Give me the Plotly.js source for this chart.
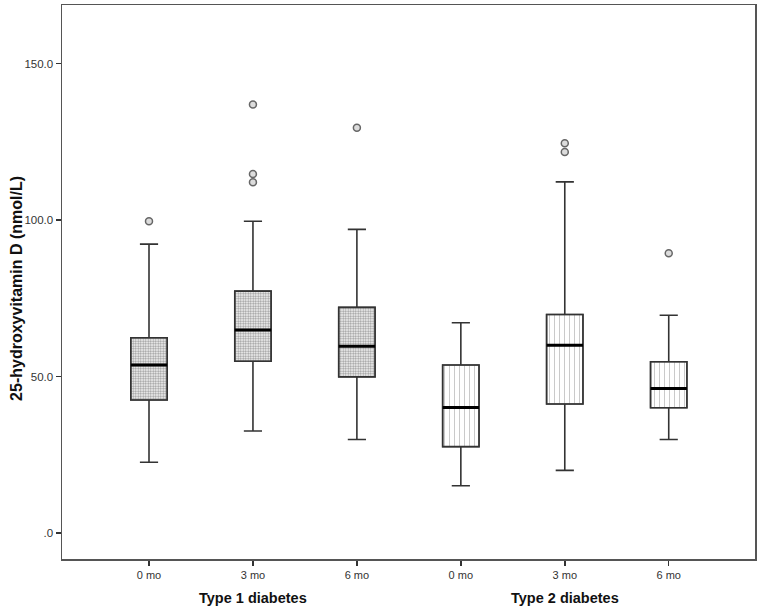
<!DOCTYPE html>
<html>
<head>
<meta charset="utf-8">
<script src="https://cdn.plot.ly/plotly-3.0.1.min.js"></script>
<style>html,body{margin:0;padding:0;background:#fff;}#chart{width:761px;height:611px;}</style>
</head>
<body>
<div id="chart"></div>
<script>
// Categories (x positions 0..5)
const tickLabels = ["0 mo", "3 mo", "6 mo", "0 mo", "3 mo", "6 mo"];
const groupLabels = ["Type 1 diabetes", "Type 2 diabetes"];
const yTitle = "25-hydroxyvitamin D (nmol/L)";

// Type 1 diabetes (0, 3, 6 mo)
const t1Lower  = [22.6, 32.6, 29.9];
const t1Q1     = [42.5, 54.9, 49.9];
const t1Median = [53.7, 64.9, 59.7];
const t1Q3     = [62.4, 77.3, 72.1];
const t1Upper  = [92.3, 99.6, 97.0];

// Type 2 diabetes (0, 3, 6 mo)
const t2Lower  = [15.1, 20.0, 29.9];
const t2Q1     = [27.6, 41.2, 40.0];
const t2Median = [40.1, 60.0, 46.2];
const t2Q3     = [53.7, 69.8, 54.7];
const t2Upper  = [67.2, 112.2, 69.6];

// Outliers: category index and value
const outlierX = [0, 1, 1, 1, 2, 4, 4, 5];
const outlierY = [99.6, 136.9, 114.7, 112.1, 129.5, 124.5, 121.7, 89.4];

const t1X = [0, 1, 2];
const t2X = [3, 4, 5];
const BW = 0.35;
const FONT = '"Liberation Sans", Arial, sans-serif';

const diff = (a, b) => a.map((v, i) => v - b[i]);

const traces = [
  { type: 'bar', x: t1X, base: t1Q1, y: diff(t1Q3, t1Q1), width: BW,
    marker: { color: '#ffffff', line: { color: '#666', width: 1.5 },
      pattern: { shape: '.', fgcolor: '#9a9a9a', bgcolor: '#ffffff', size: 2.5, solidity: 0.5 } },
    hoverinfo: 'skip', showlegend: false },
  { type: 'bar', x: t2X, base: t2Q1, y: diff(t2Q3, t2Q1), width: BW,
    marker: { color: '#ffffff', line: { color: '#666', width: 1.5 },
      pattern: { shape: '|', fgcolor: '#c4c4c4', bgcolor: '#ffffff', size: 5, solidity: 0.18 } },
    hoverinfo: 'skip', showlegend: false },
  { type: 'box', x: t1X.concat(t2X),
    q1: t1Q1.concat(t2Q1), median: t1Median.concat(t2Median), q3: t1Q3.concat(t2Q3),
    lowerfence: t1Lower.concat(t2Lower), upperfence: t1Upper.concat(t2Upper),
    width: BW, whiskerwidth: 0.5, boxpoints: false,
    fillcolor: 'rgba(0,0,0,0)', line: { color: '#333333', width: 1.6 },
    hoverinfo: 'skip', showlegend: false },
  { type: 'box', x: t1X.concat(t2X),
    q1: t1Median.concat(t2Median), median: t1Median.concat(t2Median), q3: t1Median.concat(t2Median),
    lowerfence: t1Median.concat(t2Median), upperfence: t1Median.concat(t2Median),
    width: BW, whiskerwidth: 1, boxpoints: false,
    fillcolor: 'rgba(0,0,0,0)', line: { color: '#000000', width: 3 },
    hoverinfo: 'skip', showlegend: false },
  { type: 'scatter', mode: 'markers', x: outlierX, y: outlierY,
    marker: { symbol: 'circle', size: 7, color: '#dcdcdc', line: { color: '#666', width: 1.5 } },
    hoverinfo: 'skip', showlegend: false }
];

const layout = {
  width: 761, height: 611,
  margin: { l: 62, r: 6, t: 5, b: 52 },
  paper_bgcolor: '#ffffff', plot_bgcolor: '#ffffff',
  barmode: 'overlay', boxmode: 'overlay',
  font: { family: FONT, size: 11, color: '#333' },
  showlegend: false,
  xaxis: {
    type: 'linear', range: [-0.837, 5.83],
    tickmode: 'array', tickvals: [0, 1, 2, 3, 4, 5], ticktext: tickLabels,
    ticks: 'outside', ticklen: 5, tickwidth: 1.5, tickcolor: '#333',
    showgrid: false, zeroline: false,
    showline: true, mirror: true, linecolor: '#555', linewidth: 1.5,
    tickfont: { family: FONT, size: 11, color: '#333' }
  },
  yaxis: {
    range: [-8.3, 168.7],
    tickmode: 'array', tickvals: [0, 50, 100, 150], ticktext: ['.0', '50.0', '100.0', '150.0'],
    ticks: 'outside', ticklen: 5, tickwidth: 1.2, tickcolor: '#333',
    showgrid: false, zeroline: false,
    showline: true, mirror: true, linecolor: '#555', linewidth: 1.5,
    tickfont: { family: FONT, size: 11.5, color: '#333' },
    automargin: false
  },
  annotations: groupLabels.map((g, i) => ({
    text: '<b>' + g + '</b>', x: i === 0 ? t1X[1] : t2X[1], xref: 'x',
    y: 0, yref: 'paper', yanchor: 'top', yshift: -29, showarrow: false,
    font: { family: FONT, size: 14.5, color: '#111' }
  })).concat([{
    text: '<b>' + yTitle + '</b>', textangle: -90,
    x: 0, xref: 'paper', xshift: -45, xanchor: 'center',
    y: 78, yref: 'y', yanchor: 'middle', showarrow: false,
    font: { family: FONT, size: 16, color: '#111' }
  }])
};

Plotly.newPlot('chart', traces, layout, { displayModeBar: false, staticPlot: true });
</script>
</body>
</html>
